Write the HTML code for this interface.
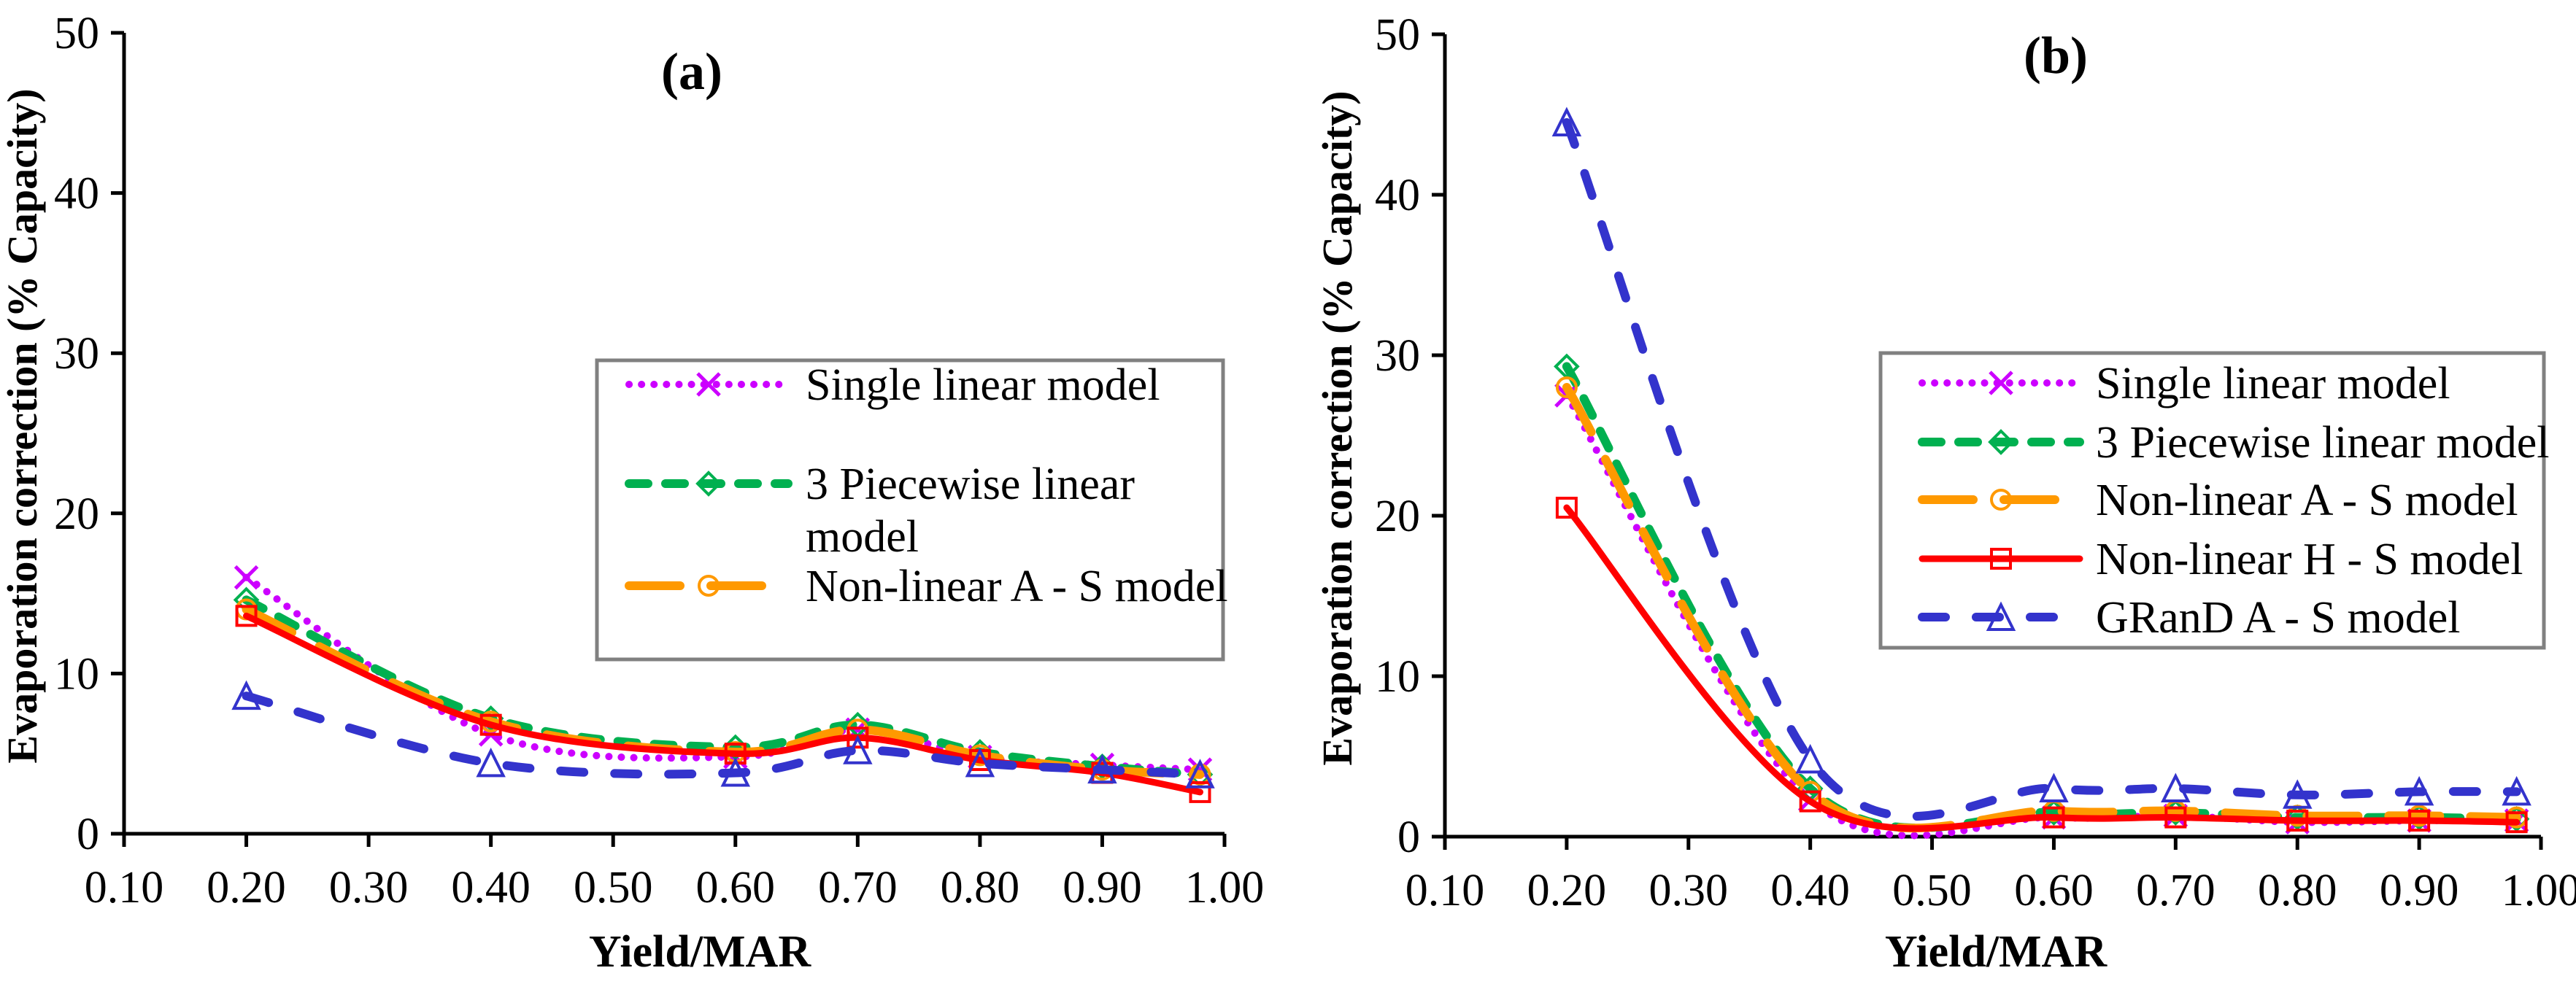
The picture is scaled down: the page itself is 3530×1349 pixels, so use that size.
<!DOCTYPE html>
<html><head><meta charset="utf-8"><style>
html,body{margin:0;padding:0;background:#fff;}
svg{display:block;}
svg text{font-family:"Liberation Serif","Times New Roman",serif;}
</style></head><body>
<svg id="chart" width="3530" height="1349" viewBox="0 0 3530 1349" font-family="Liberation Serif, serif">
<g id="pa"></g>
<g id="pb"></g>
</svg>
<script>
const xValues = [0.2, 0.4, 0.6, 0.7, 0.8, 0.9, 0.98];
const xTicks = [0.1,0.2,0.3,0.4,0.5,0.6,0.7,0.8,0.9,1.0];
const yTicks = [0,10,20,30,40,50];
const seriesNames = ["Single linear model","3 Piecewise linear model","Non-linear A - S model","Non-linear H - S model","GRanD A - S model"];
const aSingle = [16.0, 6.2, 4.8, 6.5, 4.8, 4.3, 4.0];
const aPiece  = [14.6, 7.2, 5.4, 6.8, 5.1, 4.2, 3.7];
const aNlAS   = [14.0, 7.0, 5.1, 6.5, 4.9, 4.0, 3.7];
const aNlHS   = [13.6, 6.8, 5.0, 6.0, 4.6, 3.8, 2.6];
const aGrand  = [8.6, 4.4, 3.8, 5.2, 4.4, 4.0, 3.7];
const bSingle = [27.5, 2.3, 1.2, 1.3, 0.9, 1.0, 1.0];
const bPiece  = [29.3, 3.0, 1.5, 1.5, 1.2, 1.2, 1.1];
const bNlAS   = [28.0, 2.8, 1.6, 1.6, 1.3, 1.3, 1.2];
const bNlHS   = [20.5, 2.2, 1.2, 1.2, 1.0, 1.0, 0.9];
const bGrand  = [44.5, 4.8, 3.0, 3.0, 2.6, 2.8, 2.8];

const NS="http://www.w3.org/2000/svg";
function mk(tag, attrs, parent){const e=document.createElementNS(NS,tag);for(const k in attrs)e.setAttribute(k,attrs[k]);if(tag==="text")e.setAttribute("font-family","Liberation Serif, serif");parent.appendChild(e);return e;}

const styles=[
 {color:"#cc00ff",w:10,dash:"0.1 17",cap:"round",marker:"x"},
 {color:"#00b050",w:12,dash:"26 24",cap:"round",marker:"d"},
 {color:"#ff9900",w:12,dash:"70 42",cap:"round",marker:"o"},
 {color:"#ff0000",w:9,dash:"",cap:"round",marker:"s"},
 {color:"#3333cc",w:12,dash:"32 42",cap:"round",marker:"t"}
];

function marker(g,type,cx,cy,color){
  const s=15;let m;
  if(type==="x"){m=mk("path",{d:`M${cx-s} ${cy-s}L${cx+s} ${cy+s}M${cx-s} ${cy+s}L${cx+s} ${cy-s}`,stroke:color,"stroke-width":5,fill:"none"},g);}
  else if(type==="d"){m=mk("path",{d:`M${cx} ${cy-s}L${cx+s} ${cy}L${cx} ${cy+s}L${cx-s} ${cy}Z`,stroke:color,"stroke-width":4,fill:"none"},g);}
  else if(type==="o"){m=mk("circle",{cx:cx,cy:cy,r:13,stroke:color,"stroke-width":4,fill:"none"},g);}
  else if(type==="s"){m=mk("rect",{x:cx-13,y:cy-13,width:26,height:26,stroke:color,"stroke-width":4,fill:"none"},g);}
  else {m=mk("path",{d:`M${cx} ${cy-17}L${cx+17} ${cy+17}L${cx-17} ${cy+17}Z`,stroke:color,"stroke-width":4,fill:"none"},g);}
  return m;
}

function smooth(pts){
  let d=`M${pts[0][0]} ${pts[0][1]}`;
  for(let i=0;i<pts.length-1;i++){
    const p0=pts[Math.max(0,i-1)],p1=pts[i],p2=pts[i+1],p3=pts[Math.min(pts.length-1,i+2)];
    const c1x=p1[0]+(p2[0]-p0[0])/6,c1y=p1[1]+(p2[1]-p0[1])/6;
    const c2x=p2[0]-(p3[0]-p1[0])/6,c2y=p2[1]-(p3[1]-p1[1])/6;
    d+=`C${c1x} ${c1y} ${c2x} ${c2y} ${p2[0]} ${p2[1]}`;
  }
  return d;
}

function panel(g,cfg){
  const X=v=>cfg.x0+(v-0.1)/0.9*(cfg.x1-cfg.x0);
  const Y=v=>cfg.y0-v/50*(cfg.y0-cfg.y1);
  const ax=mk("path",{d:`M${cfg.x0} ${cfg.y1}V${cfg.y0}H${cfg.x1}`,stroke:"#000","stroke-width":5,fill:"none"},g);
  
  
  yTicks.forEach(v=>{
    const y=Y(v);
    mk("line",{x1:cfg.x0-18,y1:y,x2:cfg.x0,y2:y,stroke:"#000","stroke-width":5},g);
    const t=mk("text",{x:cfg.x0-34,y:y+21,"text-anchor":"end","font-size":62},g);
    t.textContent=v;
    
    
  });
  xTicks.forEach(v=>{
    const x=X(v);
    mk("line",{x1:x,y1:cfg.y0,x2:x,y2:cfg.y0+18,stroke:"#000","stroke-width":5},g);
    const t=mk("text",{x:x,y:cfg.y0+94,"text-anchor":"middle","font-size":62},g);
    t.textContent=v.toFixed(2);
    
    
  });
  const yt=mk("text",{x:0,y:0,transform:`translate(${cfg.ytx},${(cfg.y0+cfg.y1)/2-10}) rotate(-90)`,"text-anchor":"middle","font-size":58,"font-weight":"bold"},g);
  yt.textContent="Evaporation correction (% Capacity)";
  
  
  const xt=mk("text",{x:cfg.xtx,y:1325,"text-anchor":"middle","font-size":62,"font-weight":"bold"},g);
  xt.textContent="Yield/MAR";
  
  
  const lab=mk("text",{x:cfg.labx,y:cfg.laby,"text-anchor":"middle","font-size":72,"font-weight":"bold"},g);
  lab.textContent=cfg.label;
  
  
  cfg.data.forEach((vals,si)=>{
    const st=styles[si];
    const sg=mk("g",{},g);
    
    
    const pts=vals.map((v,i)=>[X(xValues[i]),Y(v)]);
    const p=mk("path",{d:smooth(pts),stroke:st.color,"stroke-width":st.w,fill:"none","stroke-linecap":st.cap,"stroke-linejoin":"round"},sg);
    if(st.dash)p.setAttribute("stroke-dasharray",st.dash);
    
    
    pts.forEach(q=>{
      const m=marker(sg,st.marker,q[0],q[1],st.color);
      
      
    });
  });
  const L=cfg.legend;
  const lg=mk("g",{},g);
  
  
  mk("rect",{x:L.x,y:L.y,width:L.w,height:L.h,fill:"#fff",stroke:"#808080","stroke-width":5},lg);
  L.items.forEach(it=>{
    const st=styles[it.s];
    const eg=mk("g",{},lg);
    
    
    const l=mk("line",{x1:L.lx0,y1:it.y,x2:L.lx1,y2:it.y,stroke:st.color,"stroke-width":st.w,"stroke-linecap":st.cap},eg);
    if(st.dash)l.setAttribute("stroke-dasharray",st.dash);
    marker(eg,st.marker,(L.lx0+L.lx1)/2,it.y,st.color);
    it.lines.forEach((tx,k)=>{
      const t=mk("text",{x:L.tx,y:it.y+21+k*72,"font-size":62},eg);
      t.textContent=tx;
    });
  });
}

panel(document.getElementById("pa"),{
  x0:170,x1:1678,y0:1143,y1:45,ytx:50,xtx:959,labx:948,laby:122,label:"(a)",
  data:[aSingle,aPiece,aNlAS,aNlHS,aGrand],
  legend:{x:818,y:494,w:858,h:410,lx0:862,lx1:1080,tx:1104,
    items:[{s:0,y:527,lines:["Single linear model"]},{s:1,y:663,lines:["3 Piecewise linear","model"]},{s:2,y:803,lines:["Non-linear A - S model"]}]}
});
panel(document.getElementById("pb"),{
  x0:1980,x1:3482,y0:1147,y1:47,ytx:1852,xtx:2735,labx:2817,laby:100,label:"(b)",
  data:[bSingle,bPiece,bNlAS,bNlHS,bGrand],
  legend:{x:2577,y:484,w:909,h:404,lx0:2634,lx1:2850,tx:2872,
    items:[{s:0,y:525,lines:["Single linear model"]},{s:1,y:606,lines:["3 Piecewise linear model"]},{s:2,y:685,lines:["Non-linear A - S model"]},{s:3,y:766,lines:["Non-linear H - S model"]},{s:4,y:846,lines:["GRanD A - S model"]}]}
});
</script>
</body></html>
